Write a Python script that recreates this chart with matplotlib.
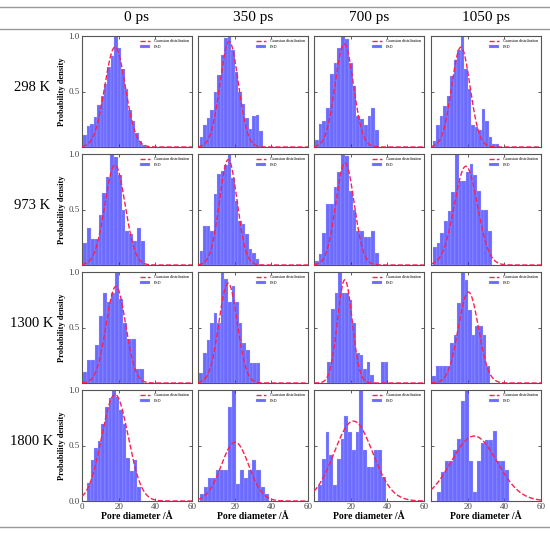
import numpy as np
import matplotlib
matplotlib.use("Agg")
import matplotlib.pyplot as plt
from matplotlib.lines import Line2D

plt.rcParams['font.family'] = ['Liberation Serif', 'DejaVu Serif']

times = ["0 ps", "350 ps", "700 ps", "1050 ps"]
temps = ["298 K", "973 K", "1300 K", "1800 K"]

# histogram of each panel: first bin edge, bin width, bar heights
# row = temperature, column = time
bin_start = [
    [0.6, 1.0, 0.5, 1.0],
    [0.6, 1.0, 0.5, 1.0],
    [0.6, 0.8, 7.3, 0.8],
    [2.8, 1.1, 2.2, 3.2],
]
bin_width = [
    [1.9, 1.9, 2.05, 1.9],
    [2.1, 1.9, 2.05, 2.0],
    [2.2, 1.95, 1.95, 1.95],
    [1.95, 2.2, 2.05, 2.2],
]
psd = [
    [
        [0.11, 0.19, 0.21, 0.27, 0.38, 0.46, 0.57, 0.72, 0.82, 1.00, 0.89, 0.70, 0.52, 0.33, 0.23, 0.13, 0.05, 0.02],
        [0.09, 0.20, 0.26, 0.33, 0.50, 0.65, 0.83, 0.98, 1.00, 0.87, 0.68, 0.50, 0.39, 0.26, 0.16, 0.28, 0.29, 0.14],
        [0.06, 0.21, 0.23, 0.35, 0.66, 0.76, 0.89, 1.00, 0.97, 0.76, 0.55, 0.28, 0.25, 0.20, 0.28, 0.35, 0.15],
        [0.05, 0.20, 0.28, 0.37, 0.46, 0.64, 0.78, 0.87, 1.00, 0.70, 0.52, 0.20, 0.18, 0.15, 0.34, 0.23, 0.09, 0.03, 0.03],
    ],
    [
        [0.20, 0.33, 0.23, 0.23, 0.45, 0.65, 0.79, 1.00, 0.97, 0.81, 0.50, 0.31, 0.28, 0.22, 0.33, 0.22],
        [0.13, 0.35, 0.35, 0.31, 0.64, 0.82, 0.85, 0.90, 1.00, 0.78, 0.58, 0.40, 0.37, 0.28, 0.14, 0.11, 0.05],
        [0.04, 0.10, 0.29, 0.55, 0.55, 0.70, 0.84, 1.00, 0.98, 0.67, 0.50, 0.31, 0.31, 0.25, 0.25, 0.31, 0.11],
        [0.16, 0.20, 0.29, 0.40, 0.49, 0.66, 1.00, 0.76, 0.76, 0.84, 0.91, 0.81, 0.67, 0.50, 0.50, 0.31],
    ],
    [
        [0.10, 0.21, 0.21, 0.34, 0.60, 0.81, 0.73, 0.81, 1.00, 0.76, 0.54, 0.40, 0.40, 0.13, 0.13],
        [0.09, 0.27, 0.39, 0.54, 0.63, 0.54, 1.00, 0.94, 0.73, 0.87, 0.73, 0.54, 0.36, 0.30, 0.18, 0.18, 0.18],
        [0.19, 0.67, 0.81, 1.00, 0.81, 0.81, 0.75, 0.54, 0.27, 0.25, 0.13, 0.19, 0.07, 0.0, 0.0, 0.19, 0.19],
        [0.06, 0.15, 0.15, 0.15, 0.15, 0.36, 0.43, 0.72, 1.00, 0.93, 0.66, 0.43, 0.51, 0.51, 0.43, 0.15],
    ],
    [
        [0.16, 0.37, 0.48, 0.54, 0.69, 0.85, 0.93, 1.00, 0.94, 0.82, 0.69, 0.39, 0.27, 0.37, 0.13],
        [0.06, 0.13, 0.21, 0.21, 0.28, 0.28, 0.28, 0.85, 1.00, 0.15, 0.28, 0.21, 0.28, 0.37, 0.28, 0.13, 0.06],
        [0.14, 0.38, 0.62, 0.41, 0.14, 0.38, 0.56, 0.77, 0.62, 0.46, 0.62, 1.00, 0.46, 0.31, 0.31, 0.46, 0.46, 0.22],
        [0.08, 0.26, 0.36, 0.36, 0.46, 0.56, 0.90, 1.00, 0.36, 0.08, 0.36, 0.52, 0.55, 0.55, 0.63, 0.36, 0.36, 0.28],
    ],
]

# fitted gaussian of each panel: mean, sigma, peak
g_mu = [
    [18.0, 17.0, 16.5, 16.3],
    [18.0, 16.5, 16.9, 19.0],
    [18.5, 16.4, 16.8, 20.4],
    [18.0, 20.2, 21.5, 23.5],
]
g_sigma = [
    [5.6, 5.0, 5.0, 5.0],
    [5.5, 4.8, 5.0, 6.3],
    [5.3, 5.0, 4.0, 5.5],
    [7.2, 7.5, 10.5, 12.5],
]
g_amp = [
    [0.90, 0.95, 0.93, 0.90],
    [0.90, 0.95, 0.92, 0.89],
    [0.87, 0.90, 0.93, 0.82],
    [0.96, 0.53, 0.72, 0.585],
]

W, H = 550, 533
fig = plt.figure(figsize=(W / 100, H / 100), dpi=100)

col_left = [82, 198, 314, 431]
row_top = [36, 154, 272, 390]
aw, ah = 110, 111

xs = np.linspace(0, 60, 300)

for i in range(4):
    for j in range(4):
        ax = fig.add_axes([col_left[j] / W, 1 - (row_top[i] + ah) / H, aw / W, ah / H])
        h = psd[i][j]
        left = bin_start[i][j] + bin_width[i][j] * np.arange(len(h))
        gy = g_amp[i][j] * np.exp(-(xs - g_mu[i][j]) ** 2 / (2 * g_sigma[i][j] ** 2))
        ax.plot(xs, gy, '--', color='#ff1f4f', lw=1.0, label='Gaussian distribution', zorder=3)
        ax.bar(left, h, width=bin_width[i][j], align='edge', color='blue', alpha=0.58,
               edgecolor='#c8c8ff', linewidth=0.3, label='PSD', zorder=2)
        ax.set_xlim(0, 60)
        ax.set_ylim(0, 1.0)
        ax.set_xticks([0, 20, 40, 60])
        ax.set_yticks([0, 0.5, 1.0])
        ax.tick_params(direction='in', top=True, right=True, length=2.5, width=0.6,
                       colors='#444444', labelsize=6.5, pad=1.5)
        for s in ax.spines.values():
            s.set_color('#555555')
            s.set_linewidth(0.8)
        if j == 0:
            if i == 3:
                ax.set_yticklabels(['0.0', '0.5', '1.0'])
            else:
                ax.set_yticklabels(['', '0.5', '1.0'])
            ax.set_ylabel('Probability density', fontsize=6, fontweight='bold', labelpad=2)
        else:
            ax.set_yticklabels([])
        if i == 3:
            if j == 0:
                ax.set_xticklabels(['0', '20', '40', '60'])
            else:
                ax.set_xticklabels(['', '20', '40', '60'])
            ax.set_xlabel('Pore diameter /Å', fontsize=7, fontweight='bold', labelpad=1)
        else:
            ax.set_xticklabels([])
        ax.legend(loc='upper right', fontsize=3, frameon=False,
                  handlelength=2.5, borderaxespad=0.4, labelspacing=0.3)

for j in range(4):
    fig.text((col_left[j] + aw / 2) / W, 1 - 18 / H, times[j], ha='center', va='center', fontsize=11)
for i in range(4):
    fig.text(32 / W, 1 - (row_top[i] + ah / 2 - 4) / H, temps[i], ha='center', va='center', fontsize=10.5)

for yy in [7, 29, 527]:
    fig.add_artist(Line2D([0.0, 1.0], [1 - yy / H, 1 - yy / H], transform=fig.transFigure,
                          color='#999999', lw=1.0))

fig.savefig('out.png', dpi=100)
